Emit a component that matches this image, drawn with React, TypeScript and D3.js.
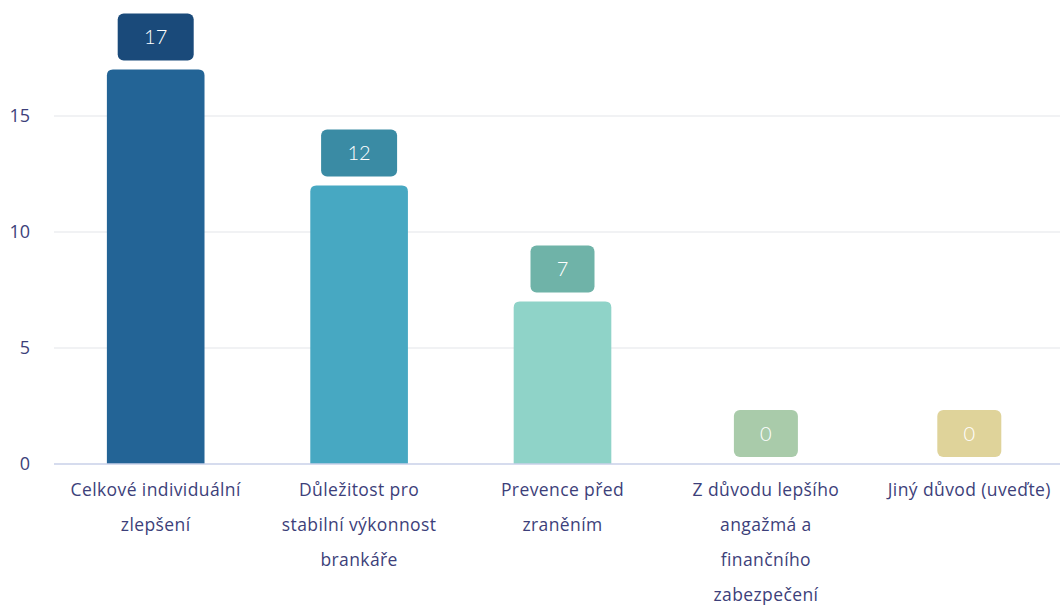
import React from "react";
import * as d3 from "d3";

const categories: string[][] = [
  ["Celkové individuální", "zlepšení"],
  ["Důležitost pro", "stabilní výkonnost", "brankáře"],
  ["Prevence před", "zraněním"],
  ["Z důvodu lepšího", "angažmá a", "finančního", "zabezpečení"],
  ["Jiný důvod (uveďte)"],
];
const values: number[] = [17, 12, 7, 0, 0];
const yTicks: number[] = [0, 5, 10, 15];
const barColors = ["#236496", "#47a8c2", "#8fd3c8", "#a9cbaa", "#dfd39a"];
const boxColors = ["#1a4a7a", "#3a8ba4", "#6fb3a8", "#a9cbaa", "#dfd39a"];

const W = 1060;
const H = 605;

export default function App() {
  const x = d3
    .scaleBand<number>()
    .domain(values.map((_, i) => i))
    .range([54, 1071])
    .paddingInner(0.52)
    .paddingOuter(0.26);
  const y = d3.scaleLinear().domain([0, 15]).range([464, 116]);
  const bw = x.bandwidth();
  const r = 6;
  const font = "'Open Sans', Lato, sans-serif";

  return (
    <svg
      width={W}
      height={H}
      style={{ position: "absolute", left: 0, top: 0, background: "#fff" }}
    >
      {yTicks.map((t) => (
        <g key={t}>
          {t !== 0 && (
            <line x1={54} x2={W} y1={y(t)} y2={y(t)} stroke="#e4e5ea" strokeWidth={1.2} />
          )}
          <text
            x={30}
            y={y(t)}
            dy="0.35em"
            textAnchor="end"
            fontFamily={font}
            fontSize={18}
            fill="#3d3f7a"
          >
            {t}
          </text>
        </g>
      ))}
      {values.map((v, i) => {
        const x0 = x(i)!;
        const top = y(v);
        const h = y(0) - top;
        const cx = x0 + bw / 2;
        const label = String(v);
        const bwBox = label.length > 1 ? 76 : 64;
        const boxH = 47;
        const boxBottom = v > 0 ? top - 9 : y(0) - 7;
        const path =
          h > 0
            ? `M${x0},${y(0)} L${x0},${top + r} Q${x0},${top} ${x0 + r},${top} L${x0 + bw - r},${top} Q${x0 + bw},${top} ${x0 + bw},${top + r} L${x0 + bw},${y(0)} Z`
            : "";
        return (
          <g key={i}>
            {h > 0 && <path d={path} fill={barColors[i]} />}
            <rect
              x={cx - bwBox / 2}
              y={boxBottom - boxH}
              width={bwBox}
              height={boxH}
              rx={6}
              fill={boxColors[i]}
            />
            <text
              x={cx}
              y={boxBottom - boxH / 2}
              dy="0.35em"
              textAnchor="middle"
              fontFamily="Lato, sans-serif"
              fontWeight={300}
              fontSize={20}
              fill="#ffffff"
            >
              {label}
            </text>
          </g>
        );
      })}
      <line x1={54} x2={W} y1={y(0)} y2={y(0)} stroke="#c9d1e8" strokeWidth={1.5} />
      {categories.map((lines, i) => {
        const cx = x(i)! + bw / 2;
        return (
          <text
            key={i}
            textAnchor="middle"
            fontFamily={font}
            fontSize={17.5}
            letterSpacing={0.4}
            fill="#3d3f7a"
          >
            {lines.map((ln, j) => (
              <tspan key={j} x={cx} y={496 + j * 35}>
                {ln}
              </tspan>
            ))}
          </text>
        );
      })}
    </svg>
  );
}
